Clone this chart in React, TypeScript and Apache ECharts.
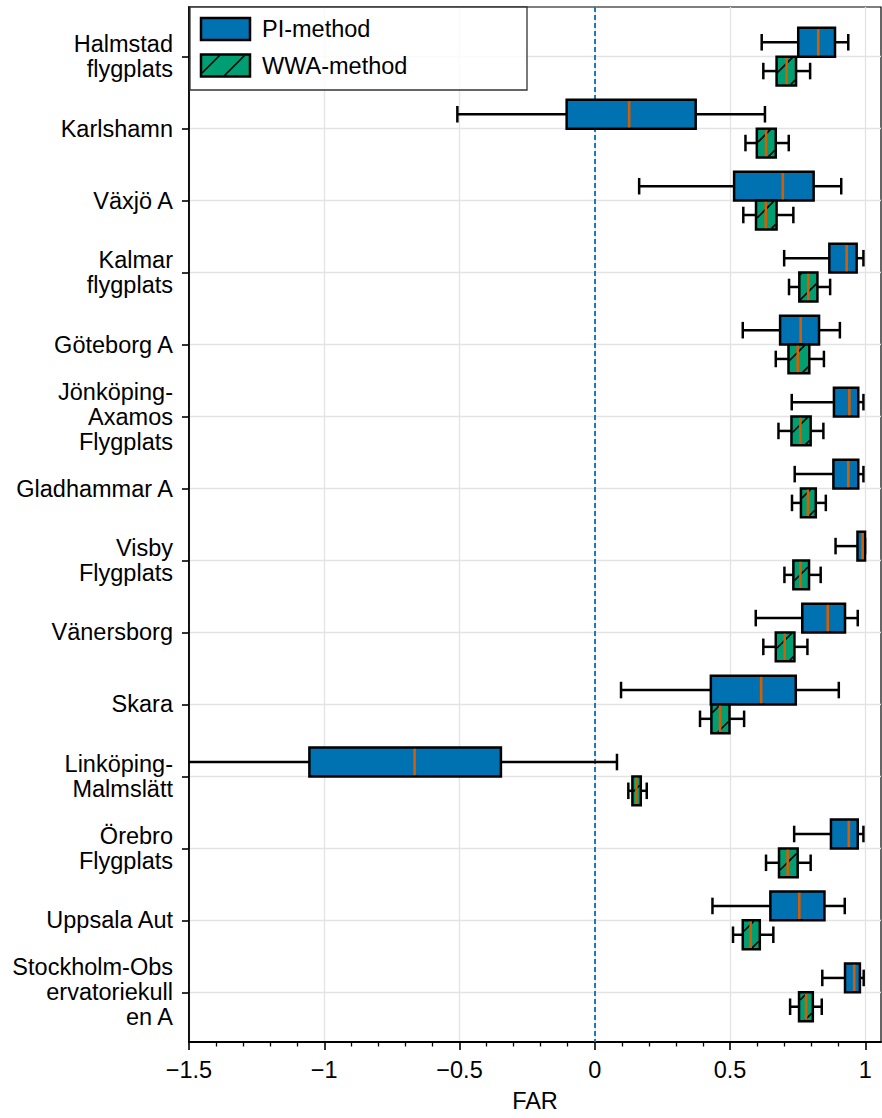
import React, { useEffect, useRef } from "react";
import * as echarts from "echarts";

// Station names (top to bottom) as printed on the y axis
const stations = [
  "Halmstad\nflygplats",
  "Karlshamn",
  "Växjö A",
  "Kalmar\nflygplats",
  "Göteborg A",
  "Jönköping-\nAxamos\nFlygplats",
  "Gladhammar A",
  "Visby\nFlygplats",
  "Vänersborg",
  "Skara",
  "Linköping-\nMalmslätt",
  "Örebro\nFlygplats",
  "Uppsala Aut",
  "Stockholm-Obs\nervatoriekull\nen A",
];

// FAR box statistics per station: [lower whisker, Q1, median, Q3, upper whisker]
const piStats = [
  [0.617, 0.752, 0.826, 0.888, 0.937],
  [-0.508, -0.104, 0.127, 0.373, 0.629],
  [0.164, 0.515, 0.695, 0.809, 0.911],
  [0.7, 0.867, 0.931, 0.968, 0.993],
  [0.547, 0.685, 0.761, 0.829, 0.906],
  [0.728, 0.884, 0.941, 0.974, 0.993],
  [0.739, 0.882, 0.937, 0.974, 0.993],
  [0.89, 0.971, 0.99, 0.999, 0.999],
  [0.595, 0.767, 0.861, 0.925, 0.972],
  [0.097, 0.429, 0.615, 0.743, 0.902],
  [-1.75, -1.055, -0.666, -0.347, 0.082],
  [0.737, 0.873, 0.939, 0.972, 0.993],
  [0.435, 0.649, 0.756, 0.849, 0.924],
  [0.841, 0.925, 0.959, 0.98, 0.994],
];

const wwaStats = [
  [0.623, 0.672, 0.709, 0.744, 0.796],
  [0.557, 0.599, 0.633, 0.669, 0.717],
  [0.549, 0.596, 0.632, 0.672, 0.734],
  [0.718, 0.756, 0.789, 0.823, 0.87],
  [0.669, 0.716, 0.75, 0.793, 0.847],
  [0.679, 0.727, 0.76, 0.798, 0.845],
  [0.729, 0.762, 0.788, 0.817, 0.854],
  [0.701, 0.734, 0.76, 0.792, 0.835],
  [0.623, 0.669, 0.702, 0.738, 0.786],
  [0.389, 0.431, 0.463, 0.498, 0.552],
  [0.124, 0.139, 0.154, 0.17, 0.192],
  [0.633, 0.681, 0.713, 0.75, 0.798],
  [0.511, 0.547, 0.576, 0.61, 0.66],
  [0.722, 0.755, 0.781, 0.806, 0.839],
];

const seriesNames = ["PI-method", "WWA-method"];
const majorTicks = [-1.5, -1, -0.5, 0, 0.5, 1];
const minorTicks = [
  -1.4, -1.3, -1.2, -1.1, -0.9, -0.8, -0.7, -0.6, -0.4, -0.3, -0.2, -0.1,
  0.1, 0.2, 0.3, 0.4, 0.6, 0.7, 0.8, 0.9,
];
const referenceLine = 0;

const PI_COLOR = "#0072B2";
const WWA_COLOR = "#009E73";
const MEDIAN_COLOR = "#D55E00";
const FONT = "'Liberation Sans', Arial, Helvetica, sans-serif";
const FONT_SIZE = 23.5;
const HATCH_STEP = 25;
const EDGE_W = 2.5;

// Diagonal "/" hatch segments clipped to a rectangle (screen coordinates)
function hatchLines(x0: number, y0: number, x1: number, y1: number, z?: number) {
  const out: any[] = [];
  const kStart = Math.ceil((x0 + y0) / HATCH_STEP);
  const kEnd = Math.floor((x1 + y1) / HATCH_STEP);
  for (let k = kStart; k <= kEnd; k++) {
    const c = k * HATCH_STEP;
    const xa = Math.max(x0, c - y1);
    const xb = Math.min(x1, c - y0);
    if (xb - xa < 0.5) continue;
    const el: any = {
      type: "line",
      shape: { x1: xa, y1: c - xa, x2: xb, y2: c - xb },
      style: { stroke: "#000", lineWidth: 1.6 },
      silent: true,
    };
    if (z != null) el.z = z;
    out.push(el);
  }
  return out;
}

function boxRenderer(fill: string, hatched: boolean, offset: number) {
  return (params: any, api: any) => {
    const pos = api.value(0);
    const vals = [1, 2, 3, 4, 5].map((d) => api.value(d));
    const [xlo, xq1, xmed, xq3, xhi] = vals.map((v) => api.coord([v, pos])[0]);
    const yc = api.coord([0, pos + offset])[1];
    const unit = Math.abs(api.size([0, 1])[1]);
    const half = 0.2 * unit;
    const cap = 0.115 * unit;
    const black = { stroke: "#000", lineWidth: EDGE_W };
    const children: any[] = [
      { type: "line", shape: { x1: xlo, y1: yc, x2: xq1, y2: yc }, style: black },
      { type: "line", shape: { x1: xq3, y1: yc, x2: xhi, y2: yc }, style: black },
      { type: "line", shape: { x1: xlo, y1: yc - cap, x2: xlo, y2: yc + cap }, style: black },
      { type: "line", shape: { x1: xhi, y1: yc - cap, x2: xhi, y2: yc + cap }, style: black },
      {
        type: "rect",
        shape: { x: xq1, y: yc - half, width: xq3 - xq1, height: 2 * half },
        style: { fill, stroke: "#000", lineWidth: EDGE_W },
      },
    ];
    if (hatched) {
      children.push(...hatchLines(xq1 + 1, yc - half + 1, xq3 - 1, yc + half - 1));
    }
    children.push({
      type: "line",
      shape: { x1: xmed, y1: yc - half + 1.2, x2: xmed, y2: yc + half - 1.2 },
      style: { stroke: MEDIAN_COLOR, lineWidth: 2.6 },
    });
    return { type: "group", children };
  };
}

const fmtTick = (v: number) => (v < 0 ? "\u2212" + Math.abs(v) : String(v));

export default function App() {
  const ref = useRef<HTMLDivElement>(null);

  useEffect(() => {
    if (!ref.current) return;
    const chart = echarts.init(ref.current, undefined, { renderer: "svg" });
    const positions = stations.map((_, i) => i + 1);
    const piData = piStats.map((s, i) => [positions[i], ...s]);
    const wwaData = wwaStats.map((s, i) => [positions[i], ...s]);

    // legend drawn as graphic elements
    const lx = 201;
    const legend: any[] = [
      {
        type: "rect",
        z: 100,
        shape: { x: 190, y: 7, width: 337, height: 83 },
        style: { fill: "rgba(255,255,255,0.8)", stroke: "#333", lineWidth: 1.3 },
      },
      {
        type: "rect",
        z: 101,
        shape: { x: lx, y: 18, width: 49, height: 22 },
        style: { fill: PI_COLOR, stroke: "#000", lineWidth: EDGE_W },
      },
      {
        type: "rect",
        z: 101,
        shape: { x: lx, y: 54.5, width: 49, height: 22 },
        style: { fill: WWA_COLOR, stroke: "#000", lineWidth: EDGE_W },
      },
      ...hatchLines(lx + 1, 55.5, lx + 48, 75.5, 102),
      {
        type: "text",
        z: 103,
        x: 262,
        y: 29,
        style: { text: seriesNames[0], font: `${FONT_SIZE}px ${FONT}`, fill: "#000", verticalAlign: "middle" },
      },
      {
        type: "text",
        z: 103,
        x: 262,
        y: 65.5,
        style: { text: seriesNames[1], font: `${FONT_SIZE}px ${FONT}`, fill: "#000", verticalAlign: "middle" },
      },
    ];

    chart.setOption({
      animation: false,
      backgroundColor: "#fff",
      textStyle: { fontFamily: FONT },
      grid: {
        left: 189,
        right: 1,
        top: 7,
        bottom: 72,
        show: true,
        borderColor: "#000",
        borderWidth: 1.2,
        backgroundColor: "transparent",
      },
      xAxis: [
        {
          type: "value",
          min: -1.5,
          max: 1.058,
          name: "FAR",
          nameLocation: "middle",
          nameGap: 47,
          nameTextStyle: { fontSize: FONT_SIZE, color: "#000", fontFamily: FONT },
          axisLine: { onZero: false, lineStyle: { color: "#000", width: 1.8 } },
          axisTick: { customValues: majorTicks, length: 8, lineStyle: { color: "#000", width: 1.6 } },
          axisLabel: {
            customValues: majorTicks,
            formatter: fmtTick,
            fontSize: FONT_SIZE,
            color: "#000",
            fontFamily: FONT,
            margin: 16,
          },
          splitLine: { show: true, lineStyle: { color: "#e3e3e3", width: 1.3 } },
        },
        {
          type: "value",
          min: -1.5,
          max: 1.058,
          position: "bottom",
          offset: 0,
          axisLine: { show: false },
          axisTick: { customValues: minorTicks, length: 4.5, lineStyle: { color: "#000", width: 1.3 } },
          axisLabel: { show: false },
          splitLine: { show: false },
        },
      ],
      yAxis: {
        type: "value",
        inverse: true,
        min: 0.31,
        max: 14.69,
        axisLine: { show: true, onZero: false, lineStyle: { color: "#000", width: 1.8 } },
        axisTick: { show: true, customValues: positions, length: 7, lineStyle: { color: "#000", width: 1.6 } },
        axisLabel: {
          customValues: positions,
          formatter: (v: number) => stations[Math.round(v) - 1] ?? "",
          fontSize: FONT_SIZE,
          lineHeight: 25,
          color: "#000",
          fontFamily: FONT,
          margin: 16,
          align: "right",
        },
        splitLine: { show: true, lineStyle: { color: "#e3e3e3", width: 1.3 } },
      },
      series: [
        {
          name: seriesNames[0],
          type: "custom",
          clip: true,
          renderItem: boxRenderer(PI_COLOR, false, -0.2),
          encode: { x: [1, 2, 3, 4, 5], y: 0 },
          data: piData,
          z: 3,
          markLine: {
            silent: true,
            symbol: "none",
            label: { show: false },
            lineStyle: { color: PI_COLOR, type: [5, 3], width: 1.8 },
            data: [{ xAxis: referenceLine }],
            z: 1,
          },
        },
        {
          name: seriesNames[1],
          type: "custom",
          clip: true,
          renderItem: boxRenderer(WWA_COLOR, true, 0.2),
          encode: { x: [1, 2, 3, 4, 5], y: 0 },
          data: wwaData,
          z: 3,
        },
      ],
      graphic: legend,
    });
    return () => chart.dispose();
  }, []);

  return (
    <div
      ref={ref}
      style={{ position: "fixed", left: 0, top: 0, width: 882, height: 1118, background: "#fff" }}
    />
  );
}
